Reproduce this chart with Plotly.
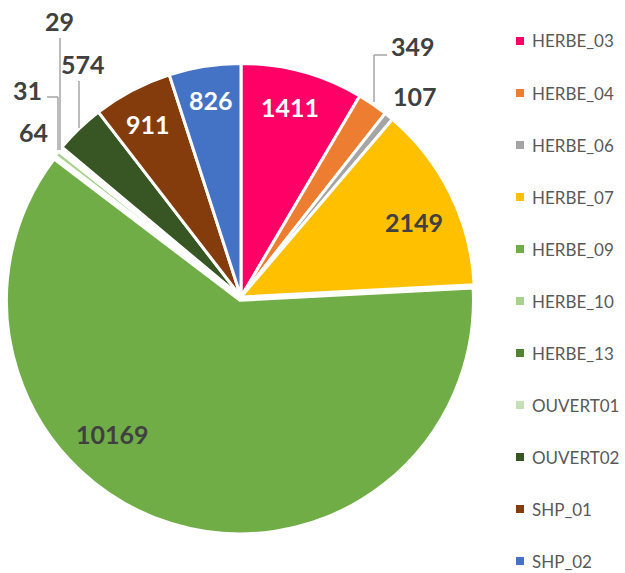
import plotly.graph_objects as go

categories = ["HERBE_03", "HERBE_04", "HERBE_06", "HERBE_07", "HERBE_09", "HERBE_10",
              "HERBE_13", "OUVERT01", "OUVERT02", "SHP_01", "SHP_02"]
values = [1411, 349, 107, 2149, 10169, 64, 31, 29, 574, 911, 826]
colors = ["#FF0066", "#ED7D31", "#A5A5A5", "#FFC000", "#70AD47", "#A9D18E",
          "#548235", "#C5E0B4", "#375623", "#843C0C", "#4472C4"]
label_color = ["white", "#404040", "#404040", "#404040", "#404040", "#404040",
               "#404040", "#404040", "#404040", "white", "white"]
pulls = [0, 0, 0, 0, 0.015, 0, 0, 0, 0, 0, 0]

W, H = 625, 573
FONT = "Lato, 'Open Sans', sans-serif"


def px(x, y):
    return x / W, 1 - y / H


fig = go.Figure()

# pie domain (square box around the pie centre)
cx, cy, half = 241, 297, 237
x0, y1p = px(cx - half, cy - half)
x1, y0p = px(cx + half, cy + half)

fig.add_trace(go.Pie(
    labels=categories, values=values, sort=False, direction="clockwise", rotation=0,
    marker=dict(colors=colors, line=dict(color="white", width=3)),
    pull=pulls, textinfo="none",
    domain=dict(x=[x0, x1], y=[y0p, y1p]),
    showlegend=False, hoverinfo="label+value",
))

# data label placement (pixel centres of each label)
label_pos = {
    "HERBE_03": (290, 107),
    "HERBE_04": (413, 46),
    "HERBE_06": (415, 96),
    "HERBE_07": (414, 222),
    "HERBE_09": (112, 434),
    "HERBE_10": (33, 132),
    "HERBE_13": (27, 90),
    "OUVERT01": (59, 21),
    "OUVERT02": (83, 64),
    "SHP_01": (148, 124),
    "SHP_02": (211, 100),
}
annotations = []
for name, (lx, ly) in label_pos.items():
    i = categories.index(name)
    ax_, ay_ = px(lx, ly)
    annotations.append(dict(
        x=ax_, y=ay_, xref="paper", yref="paper", text=f"<b>{values[i]}</b>", showarrow=False,
        font=dict(family=FONT, size=25, color=label_color[i]), xanchor="center", yanchor="middle",
    ))

leader_paths = [
    [(374, 102), (374, 55), (387, 55)],
    [(60, 38), (60, 150)],
    [(47, 97), (58, 97), (58, 150)],
    [(79, 81), (79, 128)],
]
shapes = []
for pts in leader_paths:
    for (a, b), (c, d) in zip(pts[:-1], pts[1:]):
        xa, ya = px(a, b)
        xc, yc = px(c, d)
        shapes.append(dict(type="line", xref="paper", yref="paper", x0=xa, y0=ya, x1=xc, y1=yc,
                           line=dict(color="#A6A6A6", width=1.5)))

# legend (drawn manually for Excel-like spacing)
leg_x_marker, leg_x_text, leg_y0, leg_dy, sq = 520, 531, 41, 52, 8
for i, (name, col) in enumerate(zip(categories, colors)):
    yy = leg_y0 + i * leg_dy
    xa, ya = px(leg_x_marker - sq / 2, yy - sq / 2)
    xb, yb = px(leg_x_marker + sq / 2, yy + sq / 2)
    shapes.append(dict(type="rect", xref="paper", yref="paper", x0=xa, y0=ya, x1=xb, y1=yb,
                       fillcolor=col, line=dict(width=0)))
    tx, ty = px(leg_x_text, yy)
    annotations.append(dict(x=tx, y=ty, xref="paper", yref="paper", text=name, showarrow=False,
                            xanchor="left", yanchor="middle", borderpad=0,
                            font=dict(family=FONT, size=17, color="#595959")))

fig.update_layout(
    width=W, height=H,
    margin=dict(l=0, r=0, t=0, b=0),
    paper_bgcolor="white", plot_bgcolor="white",
    showlegend=False,
    annotations=annotations, shapes=shapes,
    font=dict(family=FONT),
)

fig.write_html("out.html", config={"displayModeBar": False},
               post_script="document.body.style.margin='0';document.body.style.overflow='hidden';")
